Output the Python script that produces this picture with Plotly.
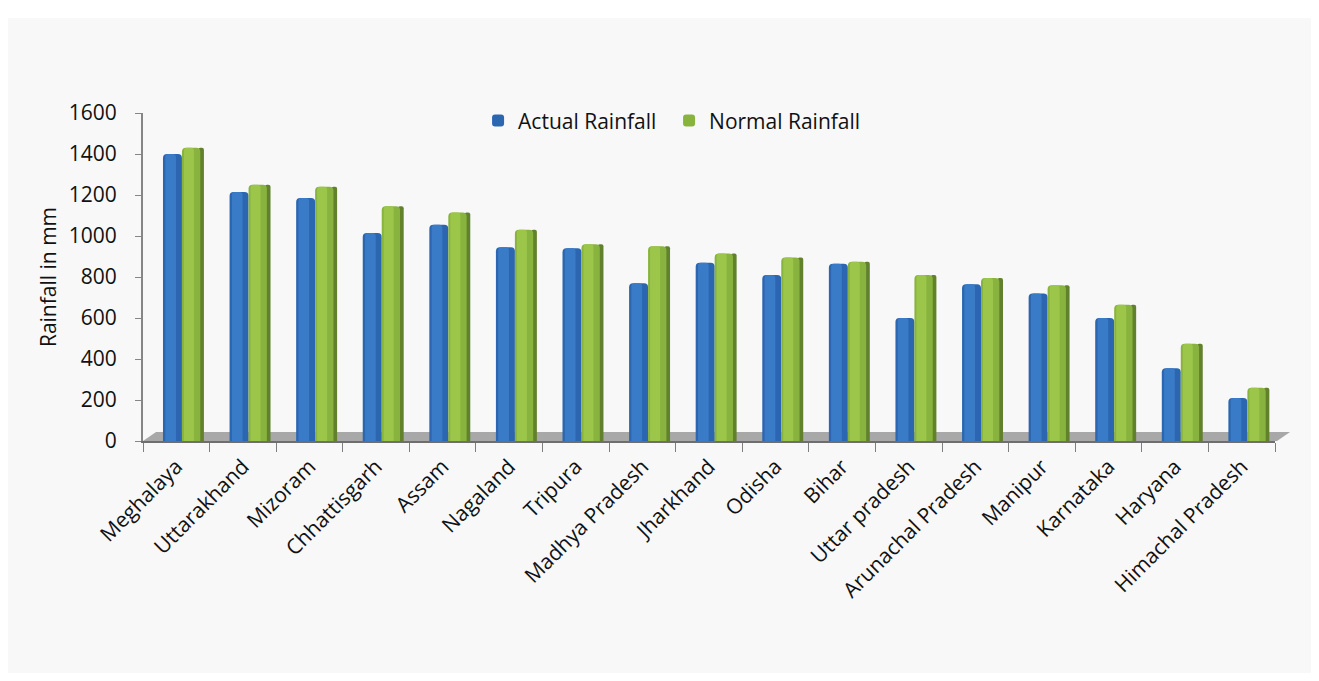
import plotly.graph_objects as go

states = ["Meghalaya", "Uttarakhand", "Mizoram", "Chhattisgarh", "Assam", "Nagaland",
          "Tripura", "Madhya Pradesh", "Jharkhand", "Odisha", "Bihar", "Uttar pradesh",
          "Arunachal Pradesh", "Manipur", "Karnataka", "Haryana", "Himachal Pradesh"]
actual_rainfall = [1400, 1215, 1185, 1015, 1055, 945, 940, 770, 870, 810, 865, 600, 765, 720, 600, 355, 210]
normal_rainfall = [1430, 1250, 1240, 1145, 1115, 1030, 960, 950, 915, 895, 875, 810, 795, 760, 665, 475, 260]
y_ticks = [0, 200, 400, 600, 800, 1000, 1200, 1400, 1600]

FONT = "Open Sans"
n = len(states)

def layer(vals, color, offset, width, name=None, legend=False, radius=4):
    return go.Bar(
        x=states, y=vals, name=name or "", showlegend=legend,
        offset=[offset] * n, width=[width] * n,
        marker=dict(color=color, line=dict(width=0), cornerradius=radius),
        hoverinfo="skip" if not legend else None,
    )

fig = go.Figure()
# Actual rainfall (front face + highlight)
fig.add_trace(layer(actual_rainfall, "#2c66b0", -0.20, 0.285, "Actual Rainfall", True))
fig.add_trace(layer(actual_rainfall, "#3a7bc7", -0.165, 0.16, radius=3))
# Normal rainfall (side face + front face + highlight)
fig.add_trace(layer(normal_rainfall, "#62812c", 0.33, 0.085, radius=4))
fig.add_trace(layer(normal_rainfall, "#89b33f", 0.085, 0.275, "Normal Rainfall", True))
fig.add_trace(layer(normal_rainfall, "#9bc64a", 0.115, 0.15, radius=3))

# floor of the 3D plot (decoration, paper coordinates)
fig.add_shape(type="path", xref="paper", yref="paper",
              path="M 0,0 L 1.0018,0 L 1.0133,0.0274 L 0.0115,0.0274 Z",
              fillcolor="#a8a8a8", line=dict(width=0), layer="below")
# white strip at the top of the frame
fig.add_shape(type="rect", xref="paper", yref="paper", x0=-0.2, x1=1.1, y0=1.2896, y1=1.4,
              fillcolor="white", line=dict(width=0), layer="above")

fig.update_layout(
    width=1303, height=665,
    margin=dict(l=135, r=36, t=105, b=232),
    paper_bgcolor="#f8f8f8", plot_bgcolor="rgba(0,0,0,0)",
    barmode="overlay",
    font=dict(family=FONT, size=21, color="#111111"),
    legend=dict(orientation="h", x=0.296, xanchor="left", y=0.976, yanchor="middle",
                entrywidth=146, entrywidthmode="pixels",
                bgcolor="rgba(0,0,0,0)", font=dict(family=FONT, size=21, color="#111111"),
                traceorder="normal"),
    xaxis=dict(
        type="category", range=[-0.5, n - 0.5],
        showline=True, linecolor="#6e6e6e", linewidth=2,
        ticks="outside", tickson="boundaries", ticklen=9, tickcolor="#7f7f7f", tickwidth=1,
        tickangle=-45, ticklabelstandoff=3,
        tickfont=dict(family=FONT, size=21, color="#111111"),
        showgrid=False, zeroline=False, automargin=False,
    ),
    yaxis=dict(
        range=[0, 1600], tickvals=y_ticks, ticktext=[str(v) for v in y_ticks],
        showline=True, linecolor="#868686", linewidth=2,
        ticks="outside", ticklen=6, tickcolor="#868686", tickwidth=1,
        ticklabelstandoff=14,
        tickfont=dict(family=FONT, size=21, color="#111111"),
        showgrid=False, zeroline=False, automargin=False,
        title=dict(text="Rainfall in mm", standoff=6, font=dict(family=FONT, size=21, color="#111111")),
    ),
)

fig.write_html("out.html")
